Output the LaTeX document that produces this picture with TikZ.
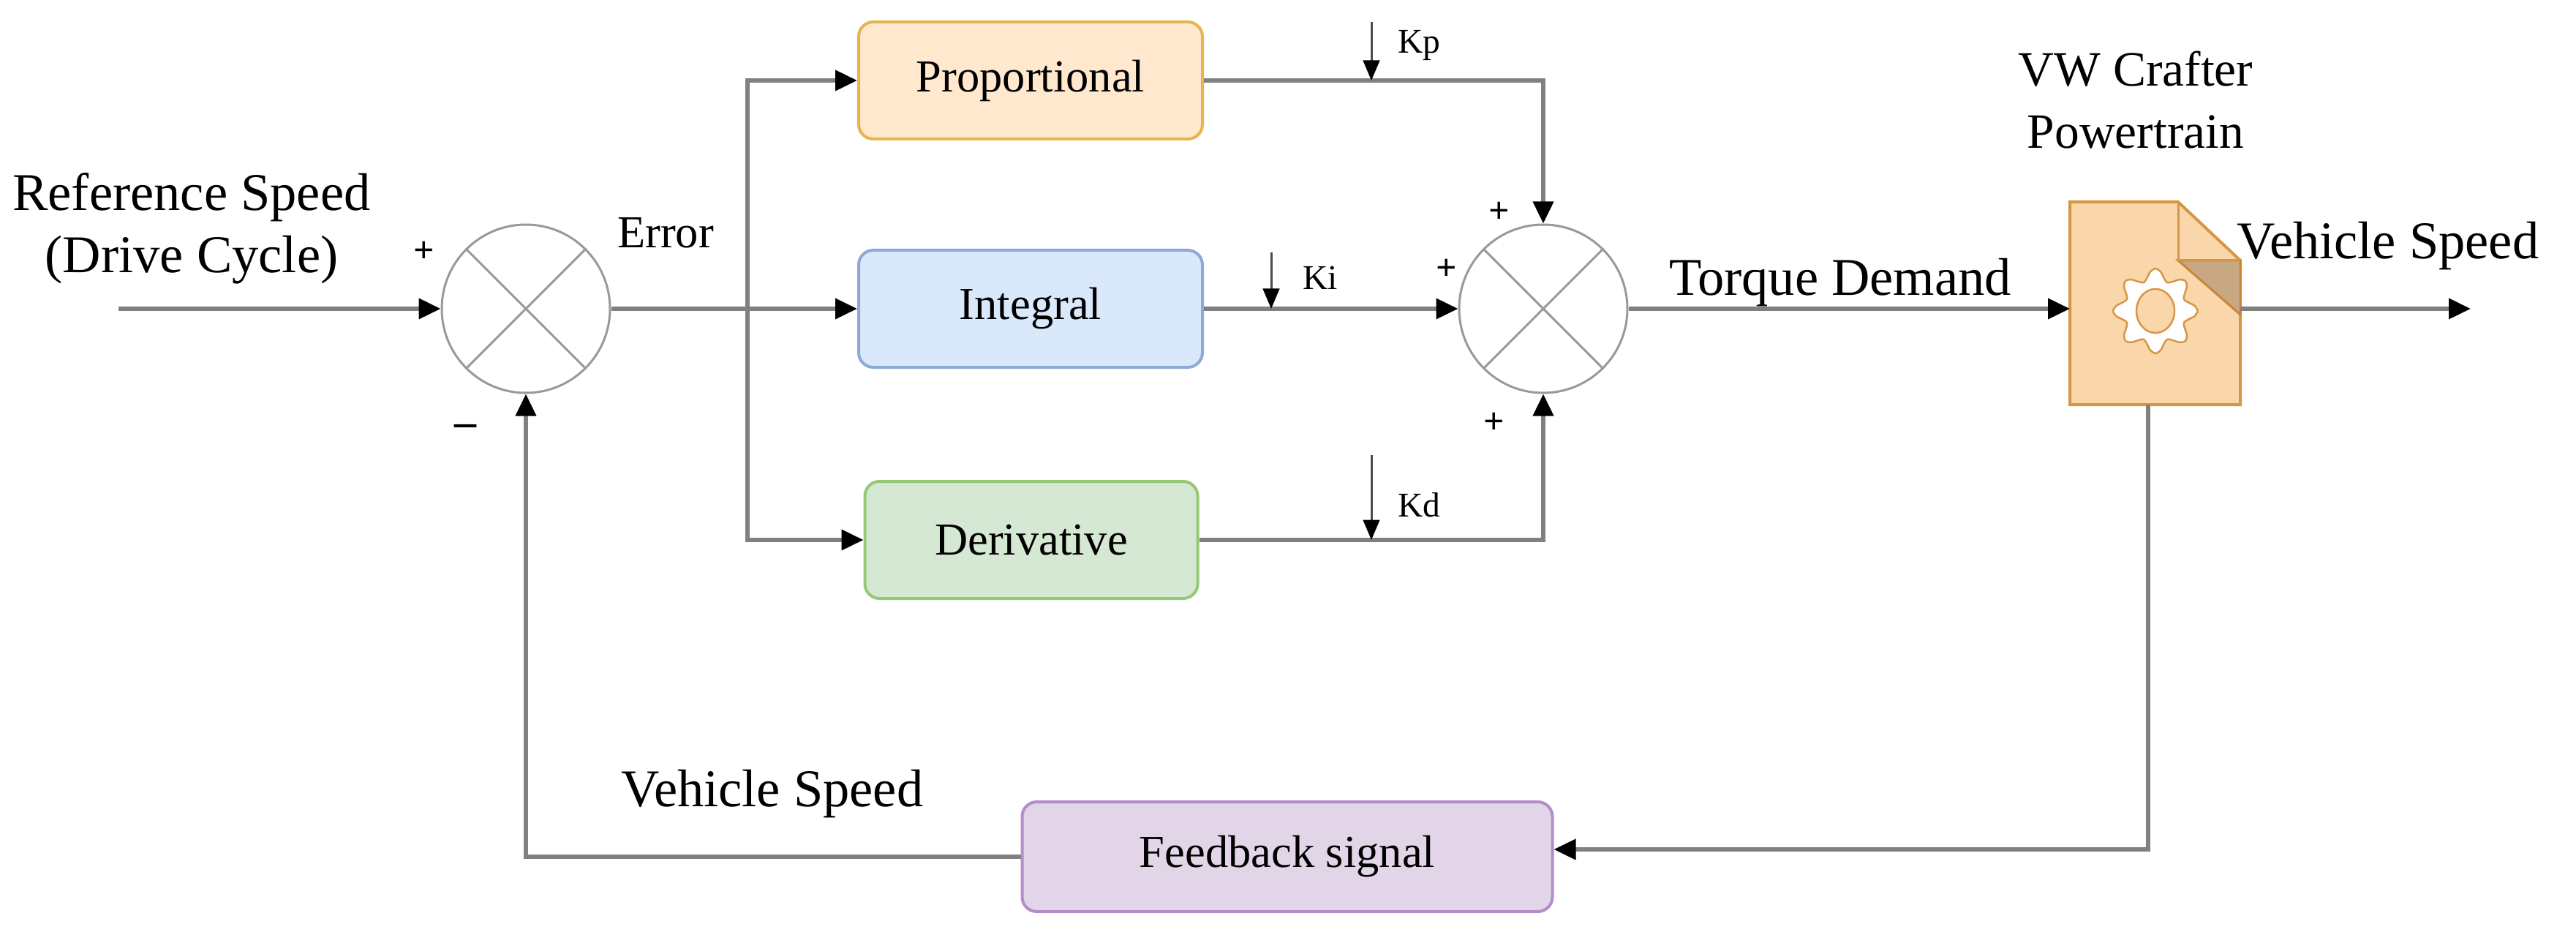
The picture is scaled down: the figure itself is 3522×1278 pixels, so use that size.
\documentclass[tikz,border=0pt]{standalone}
\usepackage{fontspec}
\setmainfont{Liberation Serif}
\usetikzlibrary{arrows.meta}
\definecolor{ln}{HTML}{808080}
\begin{document}
\begin{tikzpicture}[x=0.2pt,y=-0.2pt,
  wire/.style={draw=ln,line width=1.1pt},
  arr/.style={wire,-{Triangle[length=6pt,width=5.5pt,fill=black,color=black]}},
  kar/.style={draw=black!70,line width=0.6pt,-{Triangle[length=5.5pt,width=4.5pt,fill=black,color=black]}},
  blk/.style={rounded corners=4pt,line width=0.8pt,minimum width=94pt,minimum height=32pt,font=\fontsize{12.5}{14}\selectfont},
  sum/.style={circle,draw=ln!80,line width=0.6pt,minimum size=46pt,inner sep=0pt},
  lbl/.style={font=\fontsize{14.5}{17}\selectfont,align=center,inner sep=1pt},
  sml/.style={font=\fontsize{9.5}{10}\selectfont,inner sep=1pt},
  sgn/.style={font=\bfseries\fontsize{10}{10}\selectfont,inner sep=0pt}]
\useasboundingbox (0,0) rectangle (3522,1278);
% summers
\node[sum] (s1) at (719,422) {};
\draw[ln!80,line width=0.6pt] (s1.45)--(s1.225) (s1.135)--(s1.315);
\node[sum] (s2) at (2110,422) {};
\draw[ln!80,line width=0.6pt] (s2.45)--(s2.225) (s2.135)--(s2.315);
% blocks
\node[blk,draw={rgb,255:red,230;green,180;blue,80},fill={rgb,255:red,255;green,232;blue,205}] (P) at (1409,110) {Proportional};
\node[blk,draw={rgb,255:red,140;green,170;blue,215},fill={rgb,255:red,218;green,232;blue,252}] (I) at (1409,422) {Integral};
\node[blk,draw={rgb,255:red,150;green,200;blue,120},fill={rgb,255:red,213;green,232;blue,212},minimum width=91pt] (D) at (1410,738) {Derivative};
\node[blk,draw={rgb,255:red,180;green,140;blue,200},fill={rgb,255:red,225;green,213;blue,231},minimum width=145pt,minimum height=30pt] (F) at (1760,1171) {Feedback signal};
% powertrain
\filldraw[draw={rgb,255:red,215;green,150;blue,70},fill={rgb,255:red,250;green,215;blue,170},line width=0.8pt]
  (2830,276) -- (2978,276) -- (3063,356) -- (3063,553) -- (2830,553) -- cycle;
\filldraw[draw={rgb,255:red,200;green,135;blue,55},fill={rgb,255:red,200;green,168;blue,130},line width=0.6pt]
  (2978,356) -- (3063,356) -- (3063,430) -- cycle;
\draw[draw={rgb,255:red,215;green,150;blue,70},line width=0.6pt] (2978,276)--(2978,356)--(3063,356);
\draw[draw={rgb,255:red,215;green,150;blue,70},line width=0.5pt,fill=white]
  plot[smooth cycle,samples=49,domain=0:360] ({2947+(50+8*cos(8*\x))*cos(\x)},{425+(50+8*cos(8*\x))*sin(\x)});
\draw[draw={rgb,255:red,215;green,150;blue,70},line width=0.5pt,fill={rgb,255:red,250;green,215;blue,170}] (2947,425) ellipse (26 and 30);
\coordinate (ptL) at (2830,422);
\coordinate (ptR) at (3063,422);
\coordinate (ptB) at (2937,553);
% connectors
\coordinate (in) at (162,422);
\draw[arr] (in) -- (s1.west);
\coordinate (br) at (1022,422);
\draw[wire] (s1.east) -- (br);
\draw[arr] (br) |- (P.west);
\draw[arr] (br) -- (I.west);
\draw[arr] (br) |- (D.west);
\coordinate (pc) at (2110,110);
\draw[arr] (P.east) -- (pc) -- (s2.north);
\draw[arr] (I.east) -- (s2.west);
\coordinate (dc) at (2110,738);
\draw[arr] (D.east) -- (dc) -- (s2.south);
\draw[arr] (s2.east) -- (ptL);
\coordinate (out) at (3378,422);
\draw[arr] (ptR) -- (out);
\coordinate (fc) at (2937,1161);
\draw[arr] (ptB) -- (fc) -- (F.east|-fc);
\coordinate (fl) at (719,1171);
\draw[arr] (F.west) -- (fl) -- (s1.south);
% gains
\coordinate (kp1) at (1875,30); \coordinate (kp2) at (1875,110);
\draw[kar] (kp1) -- (kp2);
\coordinate (ki1) at (1738,345); \coordinate (ki2) at (1738,422);
\draw[kar] (ki1) -- (ki2);
\coordinate (kd1) at (1875,622); \coordinate (kd2) at (1875,738);
\draw[kar] (kd1) -- (kd2);
\node[sml,anchor=west] (kp) at (1905,62) {Kp};
\node[sml,anchor=west] (ki) at (1775,380) {Ki};
\node[sml,anchor=west] (kd) at (1905,690) {Kd};
% signs
\node[sgn] (p1) at (2050,290) {+};
\node[sgn] (p2) at (1978,368) {+};
\node[sgn] (p3) at (2043,578) {+};
\node[sgn] (p4) at (580,344) {+};
\node[sgn,font=\bfseries\fontsize{12}{12}\selectfont] (m1) at (636,588) {–};
% labels
\node[lbl] (ref) at (262,312) {Reference Speed\\(Drive Cycle)};
\node[lbl,font=\fontsize{12.5}{14}\selectfont] (err) at (910,318) {Error};
\node[lbl] (td) at (2516,386) {Torque Demand};
\node[lbl] (vs) at (3265,336) {Vehicle Speed};
\node[lbl,font=\fontsize{13.5}{17}\selectfont] (vw) at (2920,137) {VW Crafter\\Powertrain};
\node[lbl] (vs2) at (1056,1085) {Vehicle Speed};
\end{tikzpicture}
\end{document}
